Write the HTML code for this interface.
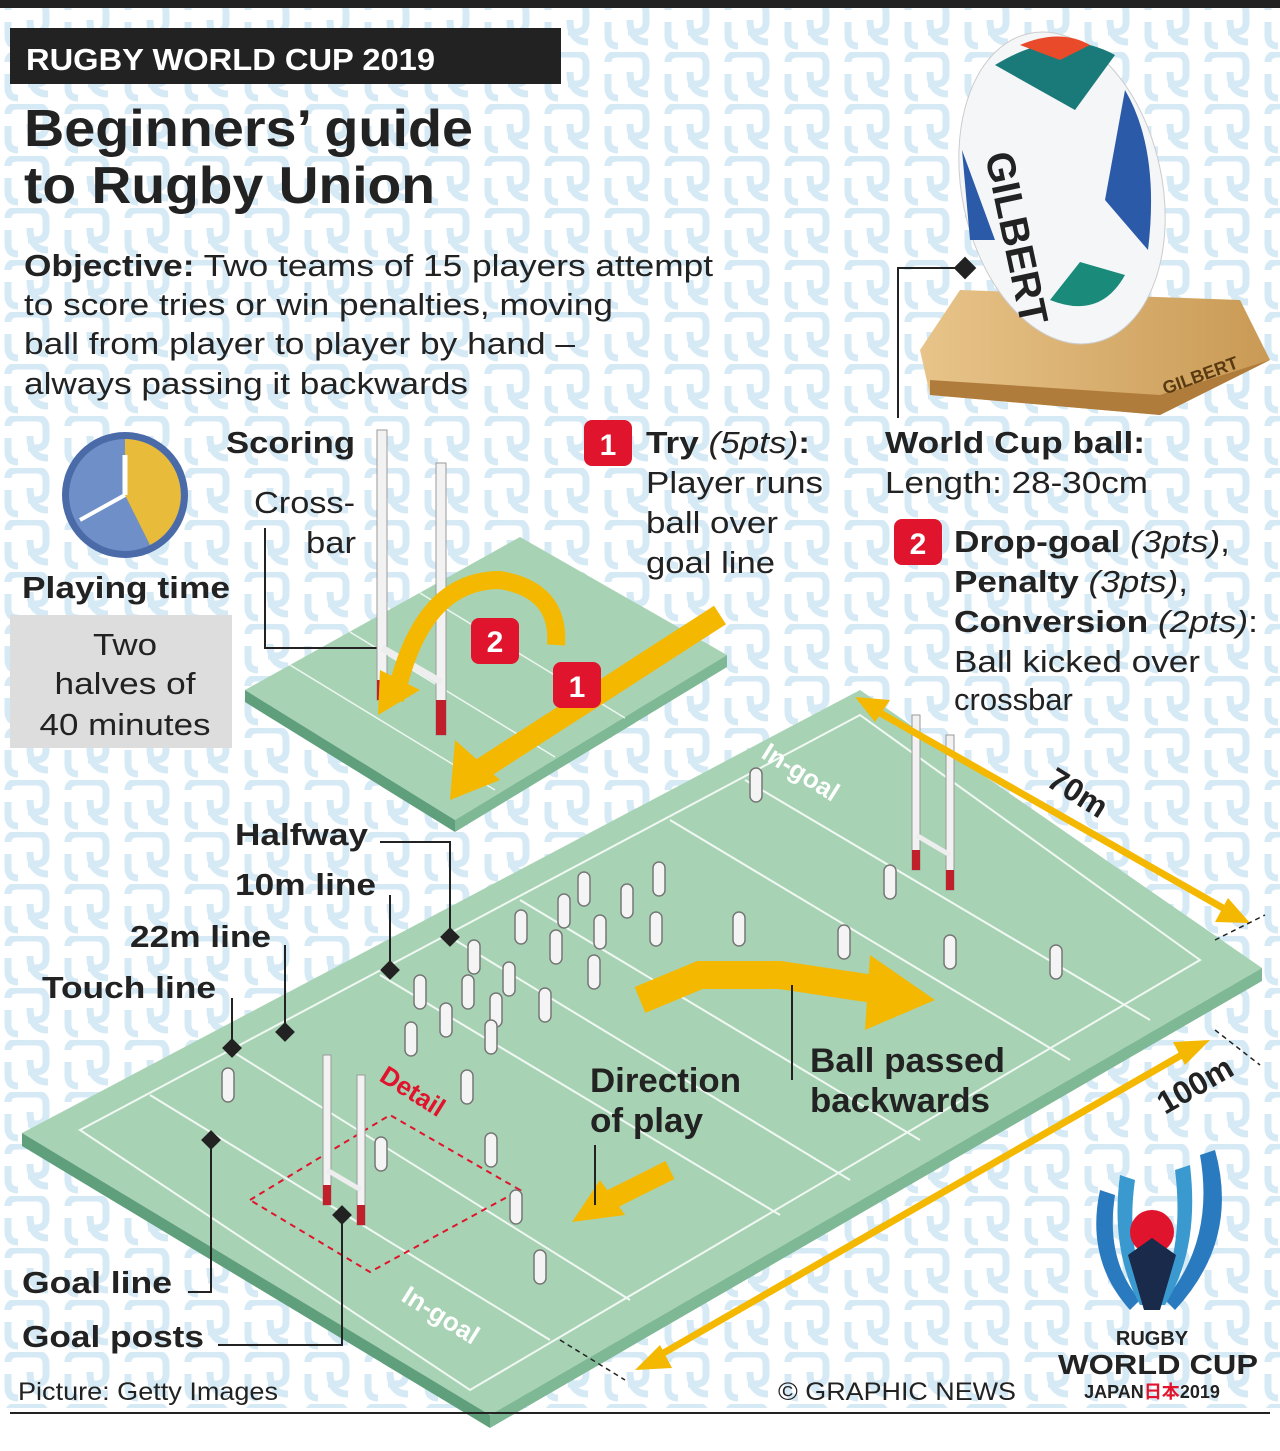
<!DOCTYPE html>
<html><head><meta charset="utf-8"><style>
html,body{margin:0;padding:0;background:#fff;}
body{width:1280px;height:1446px;overflow:hidden;font-family:"Liberation Sans",Arial,sans-serif;}
svg text{font-family:"Liberation Sans",Arial,sans-serif;}
</style></head><body>
<svg width="1280" height="1446" viewBox="0 0 1280 1446" xmlns="http://www.w3.org/2000/svg">
<defs>
<pattern id="pat" width="60" height="52" patternUnits="userSpaceOnUse">
<path d="M8 10 q0 -8 10 -8 h18 q10 0 10 10 v10 q0 10 -10 10 h-8 M30 20 q0 22 18 22 M8 22 v14 q0 10 10 10" fill="none" stroke="#d6eaf6" stroke-width="7"/>
</pattern>
<linearGradient id="wood" x1="0" x2="1"><stop offset="0" stop-color="#e8c48a"/><stop offset="1" stop-color="#c99a55"/></linearGradient>
</defs>
<rect width="1280" height="1446" fill="#fff"/>
<rect y="8" width="1280" height="1400" fill="url(#pat)"/>
<rect width="1280" height="8" fill="#222"/>
<rect x="10" y="28" width="551" height="56" fill="#222"/>
<text x="26" y="70" fill="#fff" font-size="31" font-weight="bold" textLength="409" lengthAdjust="spacingAndGlyphs">RUGBY WORLD CUP 2019</text>
<text x="24" y="146" font-size="52" font-weight="bold" fill="#222" textLength="449" lengthAdjust="spacingAndGlyphs">Beginners’ guide</text>
<text x="24" y="203" font-size="52" font-weight="bold" fill="#222" textLength="411" lengthAdjust="spacingAndGlyphs">to Rugby Union</text>
<g font-size="31" fill="#222">
<text x="24" y="276" textLength="689" lengthAdjust="spacingAndGlyphs"><tspan font-weight="bold">Objective:</tspan> Two teams of 15 players attempt</text>
<text x="24" y="315" textLength="589" lengthAdjust="spacingAndGlyphs">to score tries or win penalties, moving</text>
<text x="24" y="354" textLength="551" lengthAdjust="spacingAndGlyphs">ball from player to player by hand –</text>
<text x="24" y="394" textLength="444" lengthAdjust="spacingAndGlyphs">always passing it backwards</text>
</g>
<circle cx="125" cy="495" r="63" fill="#4a6aa8"/>
<circle cx="125" cy="495" r="56" fill="#6f8fc8"/>
<path d="M125 495 L125 439 A56 56 0 0 1 150 545 Z" fill="#f5c02a" opacity="0.9"/>
<line x1="125" y1="495" x2="125" y2="455" stroke="#fff" stroke-width="5"/>
<line x1="125" y1="495" x2="80" y2="520" stroke="#fff" stroke-width="4"/>
<text x="22" y="598" font-size="31" font-weight="bold" fill="#222" textLength="208" lengthAdjust="spacingAndGlyphs">Playing time</text>
<rect x="10" y="615" width="222" height="133" fill="#ddd"/>
<g font-size="31" fill="#222" text-anchor="middle"><text x="125" y="655" textLength="64" lengthAdjust="spacingAndGlyphs">Two</text><text x="125" y="694" textLength="141" lengthAdjust="spacingAndGlyphs">halves of</text><text x="125" y="735" textLength="171" lengthAdjust="spacingAndGlyphs">40 minutes</text></g>
<polygon points="245,690 520,537 727,655 455,820" fill="#a7d3b4"/>
<polygon points="245,690 455,820 455,832 245,702" fill="#5f9f7c"/>
<polygon points="455,820 727,655 727,667 455,832" fill="#7fb895"/>
<g fill="none" stroke="#fff" stroke-width="1.5" opacity="0.8">
<line x1="290" y1="665" x2="495" y2="790"/><line x1="350" y1="632" x2="555" y2="757"/><line x1="420" y1="593" x2="625" y2="718"/>
</g>
<g font-size="31" fill="#222">
<text x="226" y="453" font-weight="bold" textLength="129" lengthAdjust="spacingAndGlyphs">Scoring</text>
<text x="254" y="513" textLength="101" lengthAdjust="spacingAndGlyphs">Cross-</text><text x="306" y="553" textLength="50" lengthAdjust="spacingAndGlyphs">bar</text>
</g>
<polyline points="265,528 265,648 385,648" fill="none" stroke="#222" stroke-width="2"/>
<rect x="377" y="430" width="10" height="270" fill="#f2f2f2" stroke="#999"/>
<rect x="377" y="680" width="10" height="20" fill="#c0202a"/>
<rect x="436" y="463" width="10" height="272" fill="#f2f2f2" stroke="#999"/>
<rect x="436" y="700" width="10" height="35" fill="#c0202a"/>
<line x1="382" y1="648" x2="441" y2="682" stroke="#eee" stroke-width="7"/>
<path d="M395 700 Q420 580 500 580 Q560 590 556 645" fill="none" stroke="#f5b800" stroke-width="18"/>
<polygon points="378,715 380,670 420,690" fill="#f5b800"/>
<path d="M720 615 L480 770" stroke="#f5b800" stroke-width="22"/>
<polygon points="450,800 455,740 500,780" fill="#f5b800"/>
<g font-weight="bold" fill="#fff" font-size="30" text-anchor="middle">
<rect x="471" y="618" width="48" height="46" rx="8" fill="#e0142c"/><text x="495" y="652">2</text>
<rect x="553" y="662" width="48" height="46" rx="8" fill="#e0142c"/><text x="577" y="697">1</text>
<rect x="584" y="420" width="48" height="46" rx="8" fill="#e0142c"/><text x="608" y="455">1</text>
<rect x="894" y="519" width="48" height="46" rx="8" fill="#e0142c"/><text x="918" y="554">2</text>
</g>
<g font-size="31" fill="#222">
<text x="646" y="453" textLength="164" lengthAdjust="spacingAndGlyphs"><tspan font-weight="bold">Try</tspan> <tspan font-style="italic">(5pts)</tspan><tspan font-weight="bold">:</tspan></text>
<text x="646" y="493" textLength="177" lengthAdjust="spacingAndGlyphs">Player runs</text><text x="646" y="533" textLength="132" lengthAdjust="spacingAndGlyphs">ball over</text><text x="646" y="573" textLength="129" lengthAdjust="spacingAndGlyphs">goal line</text>
<text x="885" y="453" font-weight="bold" textLength="260" lengthAdjust="spacingAndGlyphs">World Cup ball:</text>
<text x="885" y="493" textLength="263" lengthAdjust="spacingAndGlyphs">Length: 28-30cm</text>
<text x="954" y="552" textLength="276" lengthAdjust="spacingAndGlyphs"><tspan font-weight="bold">Drop-goal</tspan> <tspan font-style="italic">(3pts)</tspan>,</text>
<text x="954" y="592" textLength="234" lengthAdjust="spacingAndGlyphs"><tspan font-weight="bold">Penalty</tspan> <tspan font-style="italic">(3pts)</tspan>,</text>
<text x="954" y="632" textLength="304" lengthAdjust="spacingAndGlyphs"><tspan font-weight="bold">Conversion</tspan> <tspan font-style="italic">(2pts)</tspan>:</text>
<text x="954" y="672" textLength="246" lengthAdjust="spacingAndGlyphs">Ball kicked over</text><text x="954" y="710">crossbar</text>
</g>
<polygon points="920,350 960,290 1240,300 1270,360 1160,415 930,395" fill="url(#wood)"/>
<polygon points="930,380 1160,395 1270,360 1160,415 930,395" fill="#b07c3c"/>
<text x="1160" y="385" font-size="18" font-weight="bold" fill="#5a3a10" transform="rotate(-20 1190 375)">GILBERT</text>
<ellipse cx="1062" cy="188" rx="100" ry="158" transform="rotate(-12 1062 188)" fill="#f4f6f8" stroke="#ccc"/>
<path d="M995 65 Q1060 25 1115 55 L1075 110 Z" fill="#1a7a7a"/>
<path d="M1020 45 Q1060 28 1090 45 L1060 60 Z" fill="#e84a2a"/>
<path d="M1125 90 Q1160 150 1148 250 L1105 200 Z" fill="#2a5aa8"/>
<path d="M962 150 L995 240 L970 240 Z" fill="#2a5aa8"/>
<path d="M1050 300 Q1100 320 1125 275 L1080 262 Z" fill="#1a8a7a"/>
<text x="985" y="155" font-size="40" font-weight="bold" font-family="Liberation Serif" fill="#222" transform="rotate(78 985 155)">GILBERT</text>
<polyline points="965,268 898,268 898,418" fill="none" stroke="#222" stroke-width="2"/>
<rect x="957" y="260" width="16" height="16" transform="rotate(45 965 268)" fill="#222"/>
<polygon points="22,1133 860,690 1262,968 490,1415" fill="#a7d3b4"/>
<polygon points="22,1133 490,1415 490,1428 22,1146" fill="#5f9f7c"/>
<polygon points="490,1415 1262,968 1262,981 490,1428" fill="#7fb895"/>
<g fill="none" stroke="#fff" stroke-width="2" opacity="0.85">
<polygon points="80,1130 860,715 1200,960 470,1390"/>
<line x1="150" y1="1095" x2="550" y2="1340"/>
<line x1="230" y1="1050" x2="630" y2="1300"/>
<line x1="380" y1="975" x2="780" y2="1215"/>
<line x1="450" y1="937" x2="850" y2="1180"/>
<line x1="520" y1="900" x2="920" y2="1140"/>
<line x1="670" y1="820" x2="1070" y2="1060"/>
<line x1="745" y1="780" x2="1150" y2="1020"/>
</g>
<polygon points="250,1200 390,1115 520,1190 370,1272" fill="none" stroke="#e0142c" stroke-width="2" stroke-dasharray="6,5"/>
<text x="378" y="1080" font-size="26" font-weight="bold" fill="#e0142c" transform="rotate(32 378 1080)">Detail</text>
<text x="760" y="757" font-size="26" font-weight="bold" fill="#fff" transform="rotate(32 760 757)">In-goal</text>
<text x="400" y="1300" font-size="26" font-weight="bold" fill="#fff" transform="rotate(32 400 1300)">In-goal</text>
<g>
<rect x="323" y="1055" width="8" height="150" fill="#f2f2f2" stroke="#999"/><rect x="323" y="1185" width="8" height="20" fill="#c0202a"/>
<rect x="357" y="1075" width="8" height="150" fill="#f2f2f2" stroke="#999"/><rect x="357" y="1205" width="8" height="20" fill="#c0202a"/>
<line x1="327" y1="1170" x2="361" y2="1190" stroke="#eee" stroke-width="5"/>
<rect x="912" y="715" width="8" height="155" fill="#f2f2f2" stroke="#999"/><rect x="912" y="850" width="8" height="20" fill="#c0202a"/>
<rect x="946" y="735" width="8" height="155" fill="#f2f2f2" stroke="#999"/><rect x="946" y="870" width="8" height="20" fill="#c0202a"/>
<line x1="916" y1="835" x2="950" y2="855" stroke="#eee" stroke-width="5"/>
</g>
<g fill="#f4f4f4" stroke="#777" stroke-width="1.5">
<rect x="750" y="768" width="12" height="34" rx="6"/><rect x="884" y="865" width="12" height="34" rx="6"/>
<rect x="578" y="872" width="12" height="34" rx="6"/><rect x="621" y="884" width="12" height="34" rx="6"/><rect x="653" y="862" width="12" height="34" rx="6"/>
<rect x="558" y="894" width="12" height="34" rx="6"/><rect x="515" y="910" width="12" height="34" rx="6"/><rect x="594" y="915" width="12" height="34" rx="6"/>
<rect x="650" y="912" width="12" height="34" rx="6"/><rect x="733" y="912" width="12" height="34" rx="6"/><rect x="838" y="925" width="12" height="34" rx="6"/>
<rect x="944" y="935" width="12" height="34" rx="6"/><rect x="1050" y="945" width="12" height="34" rx="6"/><rect x="550" y="930" width="12" height="34" rx="6"/>
<rect x="588" y="955" width="12" height="34" rx="6"/><rect x="468" y="940" width="12" height="34" rx="6"/><rect x="503" y="962" width="12" height="34" rx="6"/>
<rect x="462" y="975" width="12" height="34" rx="6"/><rect x="414" y="975" width="12" height="34" rx="6"/><rect x="539" y="988" width="12" height="34" rx="6"/>
<rect x="440" y="1003" width="12" height="34" rx="6"/><rect x="490" y="993" width="12" height="34" rx="6"/><rect x="405" y="1022" width="12" height="34" rx="6"/>
<rect x="485" y="1020" width="12" height="34" rx="6"/><rect x="461" y="1070" width="12" height="34" rx="6"/><rect x="222" y="1068" width="12" height="34" rx="6"/>
<rect x="375" y="1137" width="12" height="34" rx="6"/><rect x="485" y="1133" width="12" height="34" rx="6"/><rect x="510" y="1190" width="12" height="34" rx="6"/>
<rect x="534" y="1250" width="12" height="34" rx="6"/>
</g>
<path d="M640 1000 L700 975 L780 975 L880 990" fill="none" stroke="#f5b800" stroke-width="28"/>
<polygon points="870,955 935,1000 865,1030" fill="#f5b800"/>
<path d="M670 1170 L610 1200" stroke="#f5b800" stroke-width="20"/>
<polygon points="572,1222 600,1180 625,1215" fill="#f5b800"/>
<line x1="595" y1="1145" x2="595" y2="1205" stroke="#222" stroke-width="2"/>
<line x1="792" y1="985" x2="792" y2="1080" stroke="#222" stroke-width="2"/>
<g font-size="34" font-weight="bold" fill="#222">
<text x="590" y="1092" textLength="151" lengthAdjust="spacingAndGlyphs">Direction</text><text x="590" y="1132" textLength="113" lengthAdjust="spacingAndGlyphs">of play</text>
<text x="810" y="1072" textLength="195" lengthAdjust="spacingAndGlyphs">Ball passed</text><text x="810" y="1112" textLength="180" lengthAdjust="spacingAndGlyphs">backwards</text>
</g>
<line x1="875" y1="710" x2="1230" y2="912" stroke="#f5b800" stroke-width="7"/>
<polygon points="855,697 890,700 875,722" fill="#f5b800"/>
<polygon points="1250,923 1215,922 1228,898" fill="#f5b800"/>
<line x1="660" y1="1355" x2="1185" y2="1053" stroke="#f5b800" stroke-width="7"/>
<polygon points="635,1370 660,1345 672,1368" fill="#f5b800"/>
<polygon points="1210,1040 1185,1065 1173,1042" fill="#f5b800"/>
<g stroke="#222" stroke-width="1.5" stroke-dasharray="5,4"><line x1="1215" y1="940" x2="1265" y2="915"/><line x1="1215" y1="1030" x2="1260" y2="1065"/><line x1="560" y1="1340" x2="625" y2="1380"/></g>
<text x="1045" y="785" font-size="32" font-weight="bold" fill="#222" transform="rotate(32 1045 785)">70m</text>
<text x="1165" y="1115" font-size="32" font-weight="bold" fill="#222" transform="rotate(-30 1165 1115)">100m</text>
<g font-size="31" font-weight="bold" fill="#222">
<text x="235" y="845" textLength="133" lengthAdjust="spacingAndGlyphs">Halfway</text><text x="235" y="895" textLength="141" lengthAdjust="spacingAndGlyphs">10m line</text>
<text x="130" y="947" textLength="141" lengthAdjust="spacingAndGlyphs">22m line</text><text x="42" y="998" textLength="174" lengthAdjust="spacingAndGlyphs">Touch line</text>
<text x="22" y="1293" textLength="150" lengthAdjust="spacingAndGlyphs">Goal line</text><text x="22" y="1347" textLength="182" lengthAdjust="spacingAndGlyphs">Goal posts</text>
</g>
<g fill="none" stroke="#222" stroke-width="2">
<polyline points="380,842 450,842 450,937"/><polyline points="390,895 390,970"/>
<polyline points="285,945 285,1032"/><polyline points="232,998 232,1048"/>
<polyline points="188,1292 211,1292 211,1140"/><polyline points="218,1345 342,1345 342,1215"/>
</g>
<g fill="#222">
<rect x="443" y="930" width="14" height="14" transform="rotate(45 450 937)"/>
<rect x="383" y="963" width="14" height="14" transform="rotate(45 390 970)"/>
<rect x="278" y="1025" width="14" height="14" transform="rotate(45 285 1032)"/>
<rect x="225" y="1041" width="14" height="14" transform="rotate(45 232 1048)"/>
<rect x="204" y="1133" width="14" height="14" transform="rotate(45 211 1140)"/>
<rect x="335" y="1208" width="14" height="14" transform="rotate(45 342 1215)"/>
</g>
<path d="M1100 1190 Q1085 1260 1130 1310 L1140 1300 Q1105 1260 1115 1195 Z" fill="#2a7ac0"/>
<path d="M1215 1150 Q1240 1240 1175 1310 L1165 1300 Q1215 1240 1200 1155 Z" fill="#2a7ac0"/>
<path d="M1120 1175 Q1110 1250 1140 1305 L1152 1305 Q1125 1250 1135 1180 Z" fill="#3a9ad0"/>
<path d="M1190 1165 Q1200 1250 1165 1305 L1155 1305 Q1185 1250 1175 1170 Z" fill="#3a9ad0"/>
<circle cx="1152" cy="1232" r="22" fill="#e0142c"/>
<path d="M1128 1255 L1152 1238 L1176 1255 L1160 1310 L1144 1310 Z" fill="#1a2a4a"/>
<text x="1152" y="1345" font-size="20" font-weight="bold" fill="#222" text-anchor="middle">RUGBY</text>
<text x="1158" y="1374" font-size="28" font-weight="bold" fill="#222" text-anchor="middle" textLength="200" lengthAdjust="spacingAndGlyphs">WORLD CUP</text>
<text x="1152" y="1398" font-size="18" font-weight="bold" fill="#222" text-anchor="middle">JAPAN<tspan fill="#e0142c" font-family="Noto Sans CJK JP,sans-serif">日本</tspan>2019</text>
<text x="18" y="1400" font-size="25" fill="#222" textLength="260" lengthAdjust="spacingAndGlyphs">Picture: Getty Images</text>
<text x="778" y="1400" font-size="25" fill="#222" textLength="238" lengthAdjust="spacingAndGlyphs">© GRAPHIC NEWS</text>
<line x1="10" y1="1413" x2="1270" y2="1413" stroke="#222" stroke-width="2"/>
</svg>
</body></html>
